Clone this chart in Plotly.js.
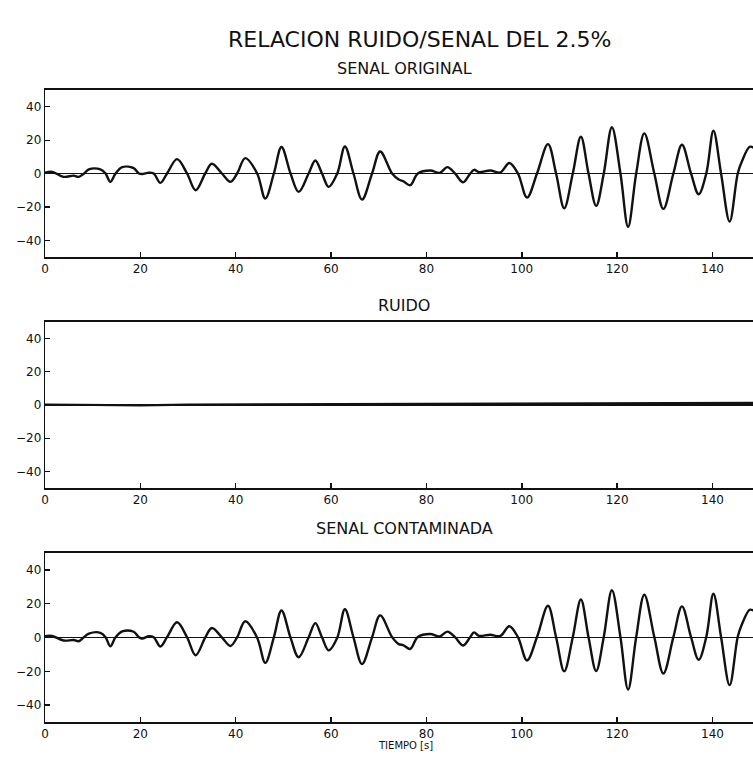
<!DOCTYPE html>
<html>
<head>
<meta charset="utf-8">
<script src="https://cdn.plot.ly/plotly-3.0.1.min.js"></script>
<style>
html,body{margin:0;padding:0;background:#fff;}
#chart{width:753px;height:760px;}
</style>
</head>
<body>
<div id="chart"></div>
<script>
// Time samples (s) read at extrema / zero crossings of the traces
const tiempo = [
  0, 1.5, 3.9, 6, 7.1, 8.2, 9.2, 11.6, 12.7, 13.7,
  14.8, 16.2, 18.6, 19.7, 20.4, 21.8, 22.8, 24.2, 25.6, 27.7,
  29.8, 31.6, 33.6, 35, 37.1, 38.9, 40.3, 42, 44.5, 46.2,
  48.0, 49.6, 51.5, 53.2, 55.3, 56.7, 58.1, 59.5, 61.3, 62.9,
  64.7, 66.5, 68.6, 70.3, 72.8, 74.2, 75.2, 76.6, 78.2, 80.8,
  82.8, 84.4, 86.0, 87.7, 89.2, 90, 91, 93.4, 95.5, 97.4,
  99.2, 101.1, 103.2, 105.5, 107.2, 108.9, 110.7, 112.4, 114.0, 115.6,
  117.2, 118.9, 120.7, 122.3, 124.0, 125.7, 127.8, 129.7, 131.8, 133.6,
  135.5, 137.1, 138.7, 140.2, 141.8, 143.6, 145.3, 146.2, 147.8, 148.6
];
const senalOriginal = [
  0.5, 1, -2, -1.3, -2, 0, 2.5, 2.5, 0, -5,
  0, 3.8, 3.2, 0, -0.3, 0.5, 0, -5.6, 0, 8.6,
  0, -10, 0, 5.8, 0, -5, 0, 9.2, 0, -15,
  0, 15.9, 0, -11, 0, 7.8, 0, -8, 0, 16.2,
  0, -15.6, 0, 13.2, 0, -3.6, -4.7, -7, 0, 1.8,
  0.4, 3.8, 0, -5.3, 0, 2.2, 0.8, 1.8, 0.6, 6.3,
  0, -14.4, 0, 17.6, 0, -20.8, 0, 22, 0, -19.4,
  0, 27.7, 0, -31.9, 0, 24, 0, -21.2, 0, 17.2,
  0, -12.4, 0, 25.6, 0, -28.8, 0, 7.5, 16, 15.5
];
const senalContaminada = [
  0.8, 0.9, -1.8, -1.5, -2.2, 0.3, 2.3, 2.8, 0.2, -5.2,
  0.1, 3.6, 3.4, 0.2, -0.6, 0.7, 0.1, -5.3, 0.2, 9,
  0.1, -10.5, -0.1, 5.6, 0.1, -5, 0.1, 9.6, -0.1, -15,
  0.1, 16, -0.1, -11.7, 0.1, 8.5, 0.1, -7.6, -0.1, 16.7,
  0.1, -15.7, 0.1, 13.1, 0.2, -3.9, -4.6, -6.8, 0.3, 2.1,
  0.6, 3.5, 0.2, -4.7, 0.3, 3, 1, 1.6, 0.9, 6.7,
  0.2, -13.6, 0.3, 18.8, 0.1, -20, 0.2, 22.5, 0.2, -19.8,
  0.3, 28, 0.2, -30.8, 0.2, 25.3, 0.3, -21.3, 0.2, 18.4,
  0.3, -13.2, 0.3, 25.9, 0.3, -28.2, 0.4, 8, 16.4, 16
];
const tiempoRuido = [0, 10, 20, 30, 40, 50, 60, 70, 80, 90, 100, 110, 120, 130, 140, 148.6];
const ruido = [0.3, 0.1, -0.2, 0.2, 0.3, 0, 0.4, 0.3, 0.5, 0.6, 0.9, 0.8, 1.0, 1.1, 1.2, 1.3];

const xTicks = [0, 20, 40, 60, 80, 100, 120, 140];
const yTicks = [-40, -20, 0, 20, 40];

const mainTitle = 'RELACION RUIDO/SENAL DEL 2.5%';
const panelTitles = ['SENAL ORIGINAL', 'RUIDO', 'SENAL CONTAMINADA'];
const xTitle = 'TIEMPO [s]';

const FONT = 'DejaVu Sans, Arial, sans-serif';
const INK = '#111';

const lineStyle = {color: INK, width: 2.4, shape: 'spline', smoothing: 1};

const traces = [
  {x: tiempo, y: senalOriginal, xaxis: 'x', yaxis: 'y', mode: 'lines', line: lineStyle, hoverinfo: 'skip'},
  {x: tiempoRuido, y: ruido, xaxis: 'x2', yaxis: 'y2', mode: 'lines', line: {color: INK, width: 2.2}, hoverinfo: 'skip'},
  {x: tiempo, y: senalContaminada, xaxis: 'x3', yaxis: 'y3', mode: 'lines', line: lineStyle, hoverinfo: 'skip'}
];

function xAxis(anchor) {
  return {
    domain: [0, 1], anchor: anchor, range: [0, 148.5],
    tickvals: xTicks, ticks: 'inside', ticklen: 5, tickwidth: 1.5, tickcolor: INK,
    showline: true, linewidth: 2, linecolor: INK, mirror: true,
    showgrid: false, zeroline: false,
    tickfont: {family: FONT, size: 12, color: INK},
    ticklabelstandoff: 0, fixedrange: true
  };
}
function yAxis(anchor, dom) {
  return {
    domain: dom, anchor: anchor, range: [-50, 50],
    tickvals: yTicks, ticks: 'inside', ticklen: 5, tickwidth: 1.2, tickcolor: INK,
    showline: true, linewidth: 1.3, linecolor: INK, mirror: false,
    showgrid: false, zeroline: true, zerolinewidth: 1.6, zerolinecolor: INK,
    tickfont: {family: FONT, size: 12, color: INK},
    fixedrange: true
  };
}

const H = 760;
const py = p => 1 - p / H;

const layout = {
  width: 753, height: 760,
  margin: {l: 45, r: 0, t: 0, b: 0, pad: 0},
  paper_bgcolor: '#fff', plot_bgcolor: '#fff',
  showlegend: false,
  xaxis: xAxis('y'),
  yaxis: yAxis('x', [py(257), py(90)]),
  xaxis2: xAxis('y2'),
  yaxis2: yAxis('x2', [py(488), py(322)]),
  xaxis3: xAxis('y3'),
  yaxis3: yAxis('x3', [py(722), py(553)]),
  annotations: [
    {text: mainTitle, xref: 'paper', yref: 'paper', x: (419 - 45) / 708, y: py(40), showarrow: false,
     xanchor: 'center', yanchor: 'middle', font: {family: FONT, size: 22, color: INK}},
    {text: panelTitles[0], xref: 'paper', yref: 'paper', x: (404 - 45) / 708, y: py(68), showarrow: false,
     xanchor: 'center', yanchor: 'middle', font: {family: FONT, size: 16, color: INK}},
    {text: panelTitles[1], xref: 'paper', yref: 'paper', x: (404 - 45) / 708, y: py(305), showarrow: false,
     xanchor: 'center', yanchor: 'middle', font: {family: FONT, size: 16, color: INK}},
    {text: panelTitles[2], xref: 'paper', yref: 'paper', x: (404 - 45) / 708, y: py(528), showarrow: false,
     xanchor: 'center', yanchor: 'middle', font: {family: FONT, size: 16, color: INK}},
    {text: xTitle, xref: 'paper', yref: 'paper', x: (405 - 45) / 708, y: py(745), showarrow: false,
     xanchor: 'center', yanchor: 'middle', font: {family: FONT, size: 10, color: INK}}
  ]
};

Plotly.newPlot('chart', traces, layout, {staticPlot: true, displayModeBar: false});
</script>
</body>
</html>
